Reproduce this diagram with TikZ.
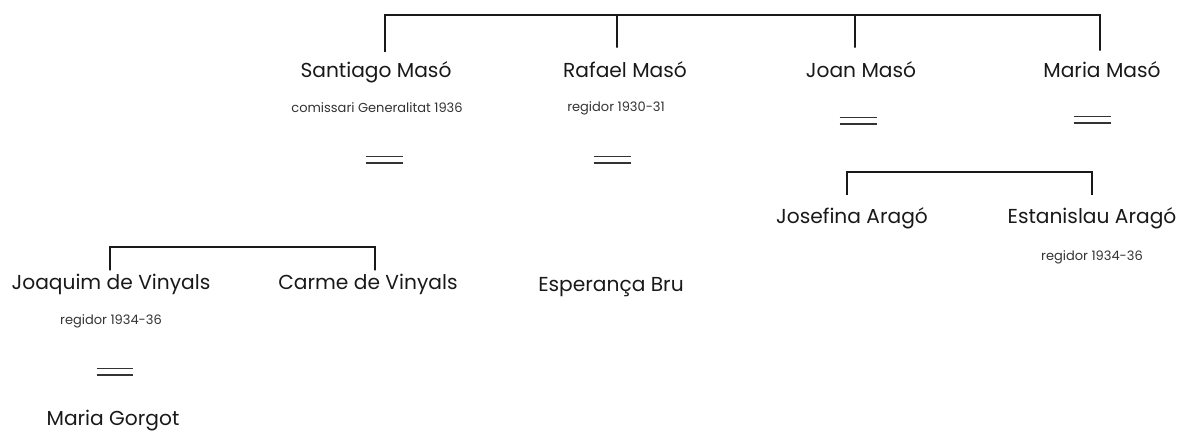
\documentclass[tikz,border=0pt]{standalone}
\usepackage{fontspec}
\setmainfont{Poppins}
\usepackage{tikz}
\usetikzlibrary{positioning}

\tikzset{
    person/.style={inner sep=0pt, font=\fontsize{11.5}{13}\selectfont, text=black!90},
    post/.style={inner sep=0pt, font=\fontsize{7.4}{9}\selectfont, text=black!80},
    eqbox/.style={minimum width=0.74cm, minimum height=0.13cm, inner sep=0pt, outer sep=0pt},
    bracket/.style={line width=1pt, black!90}
}

\begin{document}
\begin{tikzpicture}[x=0.02cm,y=-0.02cm]
            \newcommand{\marr}[3]{
                \node[eqbox] (#1) at (#2,#3) {};
                \draw[black!80, line width=0.85pt] (#1.north west) -- (#1.north east) (#1.south west) -- (#1.south east)
            }
            \useasboundingbox (0,0) rectangle (1184,431);

            % children of the first row
            \node[person] (santiago) at (376,72) {Santiago Masó};
            \node[post] (santiagoSub) at (377,108) {comissari Generalitat 1936};
            \node[person] (rafael) at (625,70) {Rafael Masó};
            \node[post] (rafaelSub) at (616,108) {regidor 1930-31};
            \node[person] (joan) at (861,70) {Joan Masó};
            \node[person] (maria) at (1102,70) {Maria Masó};

            \marr{eqS}{384}{160};
            \marr{eqR}{612}{160};
            \marr{eqJ}{858}{121};
            \marr{eqM}{1092}{120};

            % second row
            \node[person] (josefina) at (852,218) {Josefina Aragó};
            \node[person] (estanislau) at (1092,218) {Estanislau Aragó};
            \node[post] (estanislauSub) at (1092,257) {regidor 1934-36};

            \node[person] (joaquim) at (111,284) {Joaquim de Vinyals};
            \node[post] (joaquimSub) at (111,321) {regidor 1934-36};
            \node[person] (carme) at (368,284) {Carme de Vinyals};
            \node[person] (esperanca) at (611,287) {Esperança Bru};

            \marr{eqQ}{115}{372};
            \node[person] (gorgot) at (113,421) {Maria Gorgot};

            % brackets
            \coordinate (barA) at (0,15);
            \coordinate (barB) at (0,172);
            \coordinate (barC) at (0,247);

            \draw[bracket] ([shift={(9,-9)}]santiago.north) -- ([xshift=9*0.567]santiago.north |- barA) -- ([xshift=-2*0.567]maria.north |- barA) -- ([shift={(-2,-11)}]maria.north);
            \draw[bracket] ([shift={(-8,-14)}]rafael.north) -- ([xshift=-8*0.567]rafael.north |- barA);
            \draw[bracket] ([shift={(-6,-14)}]joan.north) -- ([xshift=-6*0.567]joan.north |- barA);

            \draw[bracket] ([shift={(-5,-12)}]josefina.north) -- ([xshift=-5*0.567]josefina.north |- barB) -- (estanislau.north |- barB) -- ([shift={(0,-12)}]estanislau.north);

            \draw[bracket] ([shift={(-1,-3)}]joaquim.north) -- ([xshift=-1*0.567]joaquim.north |- barC) -- ([xshift=7*0.567]carme.north |- barC) -- ([shift={(7,-3)}]carme.north);
        \end{tikzpicture}
\end{document}
